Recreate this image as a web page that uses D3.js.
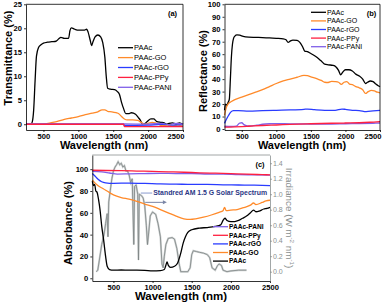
<!DOCTYPE html>
<html lang="en">
<head>
<meta charset="UTF-8">
<title>PAAc optical spectra</title>
<script src="https://cdn.jsdelivr.net/npm/d3@7"></script>
<style>
  body { margin: 0; background: #fff; }
  svg { font-family: "Liberation Sans", Arial, sans-serif; }
  .axis path, .axis line { stroke: #000; stroke-width: 0.8; }
  .axis text { font-weight: bold; font-size: 7.6px; fill: #000; }
  .raxis path, .raxis line { stroke: #8a9090; stroke-width: 0.8; }
  .raxis text { font-size: 7px; fill: #8a9090; }
</style>
</head>
<body>
<svg id="chart" width="390" height="303"></svg>
<script>
// ---- labels / ticks
const names = ["PAAc", "PAAc-GO", "PAAc-rGO", "PAAc-PPy", "PAAc-PANI"];
const colors = ["#000000", "#ff8a2a", "#2a3cff", "#ff2040", "#8060e8"];
const wlTicks = [500, 1000, 1500, 2000, 2500];
const transTicks = [0, 5, 10, 15, 20, 25];
const reflTicks = [0, 10, 20, 30, 40, 50, 60, 70, 80, 90, 100];
const absTicks = [0, 20, 40, 60, 80, 100];
const irrTicks = [0, 0.2, 0.4, 0.6, 0.8, 1.0, 1.2, 1.4];

// ---- (a) transmittance, [wavelength nm, %]
const transPAAc = [[250,0],[320,0],[340,0.5],[360,3],[380,9],[400,14.2],[430,16],[460,16.5],[500,16.9],[560,17.1],[620,17.2],[680,17.3],[720,17.8],[750,18.1],[800,17.9],[860,17.9],[880,19.5],[900,20.1],[950,19.8],[1000,19.6],[1080,19.6],[1120,19.8],[1140,19.2],[1170,17.5],[1190,16.4],[1210,17.2],[1240,18.2],[1280,18.6],[1320,18.2],[1350,17],[1380,14],[1400,10],[1420,7.5],[1460,7.3],[1520,7.2],[1560,6.8],[1590,6.2],[1620,4.5],[1650,3.2],[1680,2.2],[1720,2.2],[1760,2.4],[1820,2.1],[1860,1.4],[1890,0.8],[1920,0],[1950,0.1],[1990,0.6],[2040,1.1],[2080,1.1],[2120,0.6],[2180,0.4],[2230,0.3],[2260,0],[2300,0.2],[2350,0.3],[2400,0.1],[2450,0.3],[2500,0]];
const transGO = [[250,0],[500,0],[600,0.3],[700,0.6],[800,1.0],[900,1.3],[1000,1.6],[1100,2.0],[1200,2.3],[1280,2.6],[1340,3.0],[1380,3.0],[1420,2.7],[1480,2.6],[1540,2.4],[1580,2.2],[1620,1.6],[1660,1.1],[1700,0.9],[1780,0.9],[1850,0.8],[1900,0.4],[1950,0.0],[2000,0.2],[2060,0.4],[2100,0.3],[2150,0.0],[2200,-0.3],[2280,-0.2],[2350,-0.4],[2420,-0.2],[2500,-0.4]];
const transRGO = [[250,0],[1650,0],[1660,-0.3],[2000,-0.2],[2200,0],[2350,-0.2],[2500,-0.1]];
const transPPy = [[250,0],[1650,0],[1660,-0.5],[2500,-0.5]];
const transPANI = [[250,0.05],[1650,0.05],[2000,0],[2200,0.2],[2300,-0.1],[2400,0.2],[2500,0]];

// ---- (b) reflectance
const reflPAAc = [[250,15],[265,20],[285,19],[300,21],[320,24],[335,40],[350,58],[365,68],[380,72.5],[400,74.5],[430,75.5],[470,75.2],[520,74.3],[600,73.7],[700,73.5],[800,73.3],[900,73],[1000,72.7],[1100,72.3],[1140,71.5],[1170,69.5],[1200,70.5],[1240,71.3],[1300,71],[1340,69.5],[1380,66],[1410,62.5],[1450,62],[1500,60.5],[1560,58.5],[1620,56],[1660,54],[1700,52],[1750,51.5],[1820,51],[1860,50],[1900,47],[1930,43.5],[1960,45.5],[2000,47.5],[2050,47.5],[2100,46.5],[2150,44],[2200,42.5],[2250,40],[2290,36.5],[2320,37.5],[2360,38.5],[2400,38],[2440,36],[2480,34.5],[2500,34]];
const reflGO = [[250,11],[270,16],[300,20],[350,22],[400,23.5],[500,25.5],[600,27.5],[700,29.5],[800,31.5],[900,34],[1000,36.5],[1100,38.5],[1200,40],[1300,41.5],[1400,43],[1450,42.8],[1500,41.8],[1550,41],[1600,40],[1650,39],[1700,37.5],[1750,37.3],[1800,38.2],[1850,38],[1900,37.5],[1940,35.8],[1980,37.5],[2020,38],[2060,36],[2100,35.5],[2150,34],[2200,33],[2250,31.5],[2290,28.5],[2330,30],[2380,31],[2420,30.5],[2460,29.5],[2500,29]];
const reflRGO = [[250,4.5],[280,8],[310,11],[340,13.5],[380,14.8],[450,14.8],[600,14.3],[800,14.7],[1000,15],[1200,15.3],[1400,15.8],[1450,16],[1550,15.5],[1700,15],[1850,15],[1950,16],[2000,15.8],[2100,15],[2200,14.8],[2300,14],[2400,14.5],[2500,15]];
const reflPPy = [[250,1.5],[400,1.7],[500,1.9],[600,2.2],[800,2.8],[1000,3.2],[1200,3.7],[1500,4.2],[1800,4.6],[2000,4.8],[2200,5],[2350,5.4],[2500,6]];
const reflPANI = [[250,2.2],[350,2],[420,2.3],[470,4.8],[500,5],[530,3.5],[580,2.5],[650,2.5],[720,3],[800,3.8],[900,4.2],[1000,4.3],[1200,4.1],[1500,4],[1800,4],[2000,4.2],[2200,4.3],[2400,4.6],[2500,4.8]];

// ---- (c) absorbance + AM 1.5G irradiance (W m-2 nm-1)
const absPAAc = [[230,89],[245,85],[260,86],[275,80],[290,79],[310,72],[330,62],[350,48],[375,35],[400,20],[420,11],[450,8],[500,7.5],[600,7.6],[700,7.4],[800,7.5],[900,7.3],[1000,6.8],[1100,7],[1150,8],[1170,12],[1185,15],[1200,12],[1230,10],[1280,11],[1320,14],[1360,23],[1390,32],[1420,38],[1450,42],[1500,44.5],[1600,46],[1700,46.5],[1800,47.5],[1870,49],[1900,53],[1925,55],[1950,53],[2000,52],[2050,52],[2100,53],[2150,55],[2200,57],[2250,60],[2290,62.5],[2320,61],[2360,61.5],[2420,63.5],[2460,64],[2500,65]];
const absGO = [[230,90],[300,85],[370,82],[450,78.5],[500,76.5],[600,74],[700,72.5],[800,70.5],[900,68],[1000,66],[1100,63],[1200,60],[1300,57],[1400,54.5],[1480,54],[1550,54.5],[1650,56],[1750,58],[1850,60.5],[1900,62],[1920,65],[1940,62],[2000,62.5],[2080,63],[2150,64.5],[2250,67],[2290,69],[2320,67.5],[2400,69.5],[2450,71],[2500,71.5]];
const absRGO = [[230,96],[260,94],[300,91],[350,88.5],[400,87.5],[500,87],[700,87.3],[900,87],[1100,86.5],[1300,86.3],[1500,86],[1700,86],[1900,85.7],[2100,85.5],[2300,85.3],[2500,85]];
const absPPy = [[230,99],[400,98.8],[600,98.6],[800,98.3],[1000,98],[1200,97.6],[1400,97.2],[1600,96.7],[1800,96.3],[2000,95.9],[2200,95.4],[2400,95],[2500,94.8]];
const absPANI = [[230,98],[350,97.5],[450,96.5],[550,95.5],[700,95.7],[900,96],[1100,96.2],[1300,96],[1500,96],[1700,95.6],[1900,95.5],[2100,95],[2300,94.8],[2500,94.5]];
const solar = [[280,0],[300,0.02],[320,0.15],[350,0.35],[380,0.48],[400,0.62],[420,0.75],[430,0.45],[440,0.9],[460,1.05],[480,1.2],[500,1.3],[520,1.35],[540,1.38],[560,1.42],[580,1.38],[600,1.4],[620,1.35],[640,1.37],[660,1.3],[680,1.3],[700,1.25],[720,1.15],[740,1.2],[760,0.35],[770,1.1],[790,1.12],[810,1.0],[820,0.15],[830,1.0],[860,0.98],[880,0.95],[900,0.85],[920,0.6],[935,0.35],[950,0.5],[970,0.72],[1000,0.77],[1040,0.74],[1070,0.62],[1100,0.45],[1120,0.1],[1135,0.05],[1150,0.2],[1170,0.35],[1200,0.43],[1250,0.44],[1280,0.42],[1310,0.3],[1340,0.1],[1360,0],[1450,0],[1480,0.05],[1500,0.22],[1520,0.27],[1560,0.26],[1600,0.25],[1650,0.24],[1700,0.22],[1730,0.18],[1760,0.05],[1800,0.02],[1830,0.08],[1850,0.1],[1880,0.08],[1900,0.02],[1950,0],[2000,0.01],[2100,0.02],[2200,0.02]];

const svg = d3.select("#chart");
const fmtInt = d3.format("d");

function drawAxes(g, x, y, yTicks) {
  const [xl, xr] = x.range(), [yb, yt] = y.range();
  g.append("g").attr("class", "axis").attr("transform", `translate(0,${yb})`)
    .call(d3.axisBottom(x).tickValues(wlTicks).tickFormat(fmtInt).tickSize(2).tickSizeOuter(0).tickPadding(2));
  g.append("g").attr("class", "axis").attr("transform", `translate(${xl},0)`)
    .call(d3.axisLeft(y).tickValues(yTicks).tickFormat(fmtInt).tickSize(2).tickSizeOuter(0).tickPadding(2));
  g.append("line").attr("x1", xl).attr("x2", xr).attr("y1", yt).attr("y2", yt).attr("stroke", "#000").attr("stroke-width", 0.8);
  g.append("line").attr("x1", xr).attr("x2", xr).attr("y1", yt).attr("y2", yb).attr("stroke", "#000").attr("stroke-width", 0.8);
}

function drawLines(g, x, y, list, cols) {
  const ln = d3.line().x(d => x(d[0])).y(d => y(d[1])).curve(d3.curveMonotoneX);
  list.forEach((s, i) => g.append("path").datum(s).attr("fill", "none")
    .attr("stroke", cols[i]).attr("stroke-width", 1.3).attr("d", ln));
}

function legend(g, x0, y0, dy, labels, cols, size, bold) {
  labels.forEach((t, i) => {
    const yy = y0 + i * dy;
    g.append("line").attr("x1", x0).attr("x2", x0 + 15).attr("y1", yy).attr("y2", yy)
      .attr("stroke", cols[i]).attr("stroke-width", 1.3);
    g.append("text").attr("x", x0 + 16).attr("y", yy).attr("dy", "0.35em")
      .attr("font-size", size).attr("font-weight", bold ? "bold" : "normal").text(t);
  });
}

function title(g, txt, x, y, rot, size) {
  g.append("text").attr("transform", `translate(${x},${y}) rotate(${rot || 0})`)
    .attr("text-anchor", "middle").attr("dominant-baseline", "central")
    .attr("font-size", size || 11).attr("font-weight", "bold").text(txt);
}

function lastLabelEnd(g) {
  g.selectAll(".axis .tick text").filter(d => d === 2500).attr("text-anchor", "end").attr("dx", 1);
}

// ---- panel (a)
const ga = svg.append("g");
const xa = d3.scaleLinear().domain([250, 2500]).range([26, 183]);
const ya = d3.scaleLinear().domain([-1.2, 25]).range([130, 4.3]);
drawLines(ga, xa, ya, [transPAAc, transGO, transRGO, transPANI, transPPy],
  [colors[0], colors[1], colors[2], colors[4], colors[3]]);
drawAxes(ga, xa, ya, transTicks);
lastLabelEnd(ga);
legend(ga, 118, 47.7, 9.9, names, colors, 7.5, false);
title(ga, "Transmittance (%)", 7.5, 58, -90, 11);
title(ga, "Wavelength (nm)", 104, 144.5, 0, 11);
ga.append("text").attr("x", 172.5).attr("y", 13.5).attr("dy", "0.35em").attr("text-anchor", "middle")
  .attr("font-size", 7.5).attr("font-weight", "bold").text("(a)");

// ---- panel (b)
const gb = svg.append("g");
const xb = d3.scaleLinear().domain([250, 2500]).range([224.5, 380]);
const yb = d3.scaleLinear().domain([-0.8, 100]).range([130, 4.3]);
drawLines(gb, xb, yb, [reflPAAc, reflGO, reflRGO, reflPANI, reflPPy],
  [colors[0], colors[1], colors[2], colors[4], colors[3]]);
drawAxes(gb, xb, yb, reflTicks);
lastLabelEnd(gb);
legend(gb, 311, 12.3, 8.6, names, colors, 7, false);
title(gb, "Reflectance (%)", 202.5, 71, -90, 11);
title(gb, "Wavelength (nm)", 302, 144.5, 0, 11);
gb.append("text").attr("x", 371.5).attr("y", 13.5).attr("dy", "0.35em").attr("text-anchor", "middle")
  .attr("font-size", 7.5).attr("font-weight", "bold").text("(b)");

// ---- panel (c)
const gc = svg.append("g");
const xc = d3.scaleLinear().domain([230, 2500]).range([92.3, 270]);
const yc = d3.scaleLinear().domain([-2.5, 113]).range([281, 155]);
const yr = d3.scaleLinear().domain([-0.12, 1.506]).range([281, 155]);

const sl = d3.line().x(d => xc(d[0])).y(d => yr(d[1]));
gc.append("path").datum(solar).attr("fill", "none").attr("stroke", "#cdd1d1").attr("stroke-width", 2).attr("d", sl);
gc.append("path").datum(solar).attr("fill", "none").attr("stroke", "#7d8484").attr("stroke-width", 0.8).attr("d", sl);

drawLines(gc, xc, yc, [absPAAc, absGO, absRGO, absPANI, absPPy],
  [colors[0], colors[1], colors[2], colors[4], colors[3]]);

const [cl, cr] = xc.range();
gc.append("g").attr("class", "axis").attr("transform", "translate(0,281)")
  .call(d3.axisBottom(xc).tickValues(wlTicks).tickFormat(fmtInt).tickSize(2).tickSizeOuter(0).tickPadding(2));
gc.append("g").attr("class", "axis").attr("transform", `translate(${cl},0)`)
  .call(d3.axisLeft(yc).tickValues(absTicks).tickFormat(fmtInt).tickSize(2).tickSizeOuter(0).tickPadding(2));
gc.append("g").attr("class", "raxis").attr("transform", `translate(${cr},0)`)
  .call(d3.axisRight(yr).tickValues(irrTicks).tickFormat(d3.format(".1f")).tickSize(2).tickSizeOuter(0).tickPadding(1));
gc.append("line").attr("x1", cl).attr("x2", cr).attr("y1", 155).attr("y2", 155).attr("stroke", "#8a9090").attr("stroke-width", 0.8);

const legC = ["PAAc-PANI", "PAAc-PPy", "PAAc-rGO", "PAAc-GO", "PAAc"];
legend(gc, 213, 226.7, 8.6, legC, [colors[4], colors[3], colors[2], colors[1], colors[0]], 6.6, true);

title(gc, "Absorbance (%)", 68.3, 223, -90, 11);
title(gc, "Wavelength (nm)", 181, 295.5, 0, 11.5);
gc.append("text").attr("transform", "translate(289.5,218) rotate(90)")
  .attr("text-anchor", "middle").attr("dominant-baseline", "central")
  .attr("font-size", 9.8).attr("fill", "#8a9090")
  .call(t => {
    t.append("tspan").text("Irradiance (W m");
    t.append("tspan").attr("font-size", 6.2).attr("dy", -3.2).text("-2");
    t.append("tspan").attr("dy", 3.2).text(" nm");
    t.append("tspan").attr("font-size", 6.2).attr("dy", -3.2).text("-1");
    t.append("tspan").attr("dy", 3.2).text(")");
  });
gc.append("text").attr("x", 260).attr("y", 164).attr("dy", "0.35em").attr("text-anchor", "middle")
  .attr("font-size", 7.5).attr("font-weight", "bold").text("(c)");

// AM 1.5G annotation, placed in data units
const ann = { lineFrom: 850, textAt: 1008, level: 1.015, arrowFrom: 906, arrowTo: 1183, arrowLevel: 0.895 };
gc.append("line").attr("x1", xc(ann.lineFrom)).attr("x2", xc(ann.textAt) - 1)
  .attr("y1", yr(ann.level)).attr("y2", yr(ann.level)).attr("stroke", "#7c8fc7").attr("stroke-width", 0.9);
gc.append("text").attr("x", xc(ann.textAt)).attr("y", yr(ann.level)).attr("dy", "0.35em")
  .attr("font-size", 6.9).attr("font-weight", "bold").attr("fill", "#2b3785")
  .text("Standred AM 1.5 G Solar Spectrum");
const ax1 = xc(ann.arrowFrom), ax2 = xc(ann.arrowTo), ay = yr(ann.arrowLevel);
gc.append("line").attr("x1", ax1).attr("x2", ax2 - 3).attr("y1", ay).attr("y2", ay)
  .attr("stroke", "#7a86a6").attr("stroke-width", 1);
gc.append("path").attr("d", `M${ax2},${ay} L${ax2 - 4},${ay - 2} L${ax2 - 4},${ay + 2} Z`).attr("fill", "#7a86a6");
</script>
</body>
</html>
